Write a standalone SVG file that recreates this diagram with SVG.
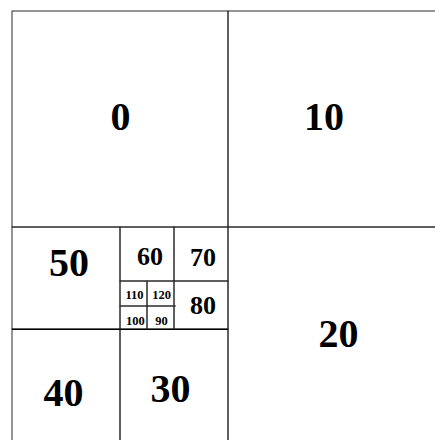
<svg xmlns="http://www.w3.org/2000/svg" width="435" height="440" viewBox="0 0 435 440">
<style>
.c{fill:none;stroke:#2a2a2a;stroke-width:1}
.t{font-family:"Liberation Serif","Times New Roman",serif;font-weight:bold;fill:#000;text-anchor:middle}
.L{font-size:40px}
.M{font-size:26px}
.S{font-size:12.5px}
</style>
<rect width="435" height="440" fill="#fff"/>
<g id="n0"><rect class="c" x="12" y="11" width="216" height="216"/><text class="t L" x="120.5" y="129.5">0</text></g>
<g id="n10"><rect class="c" x="228" y="11" width="216" height="216"/><text class="t L" x="324" y="129.5">10</text></g>
<g id="n20"><rect class="c" x="228" y="227" width="216" height="216"/><text class="t L" x="338.5" y="346.5">20</text></g>
<g id="n50"><rect class="c" x="12" y="227" width="108" height="102"/><text class="t L" x="69" y="275.5">50</text></g>
<g id="n60"><rect class="c" x="120" y="227" width="54" height="54"/><text class="t M" x="150" y="264.5">60</text></g>
<g id="n70"><rect class="c" x="174" y="227" width="54" height="54"/><text class="t M" x="203" y="266">70</text></g>
<g id="n80"><rect class="c" x="174" y="281" width="54" height="48"/><text class="t M" x="203" y="313.5">80</text></g>
<g id="n110"><rect class="c" x="120" y="281" width="27" height="25"/><text class="t S" x="134.5" y="299">110</text></g>
<g id="n120"><rect class="c" x="147" y="281" width="27" height="25"/><text class="t S" x="161.5" y="299">120</text></g>
<g id="n100"><rect class="c" x="120" y="306" width="27" height="23"/><text class="t S" x="135.3" y="324.5">100</text></g>
<g id="n90"><rect class="c" x="147" y="306" width="27" height="23"/><text class="t S" x="161.5" y="325">90</text></g>
<g id="n40"><rect class="c" x="12" y="329" width="108" height="114"/><text class="t L" x="63.5" y="405.5">40</text></g>
<g id="n30"><rect class="c" x="120" y="329" width="108" height="114"/><text class="t L" x="170.5" y="401.5">30</text></g>
<g id="connectors">
<line x1="174" y1="306" x2="176" y2="306" stroke="#2a2a2a" stroke-width="1"/>
<line x1="12" y1="329.5" x2="228" y2="329.5" stroke="#000" stroke-width="1"/>
</g>
</svg>
